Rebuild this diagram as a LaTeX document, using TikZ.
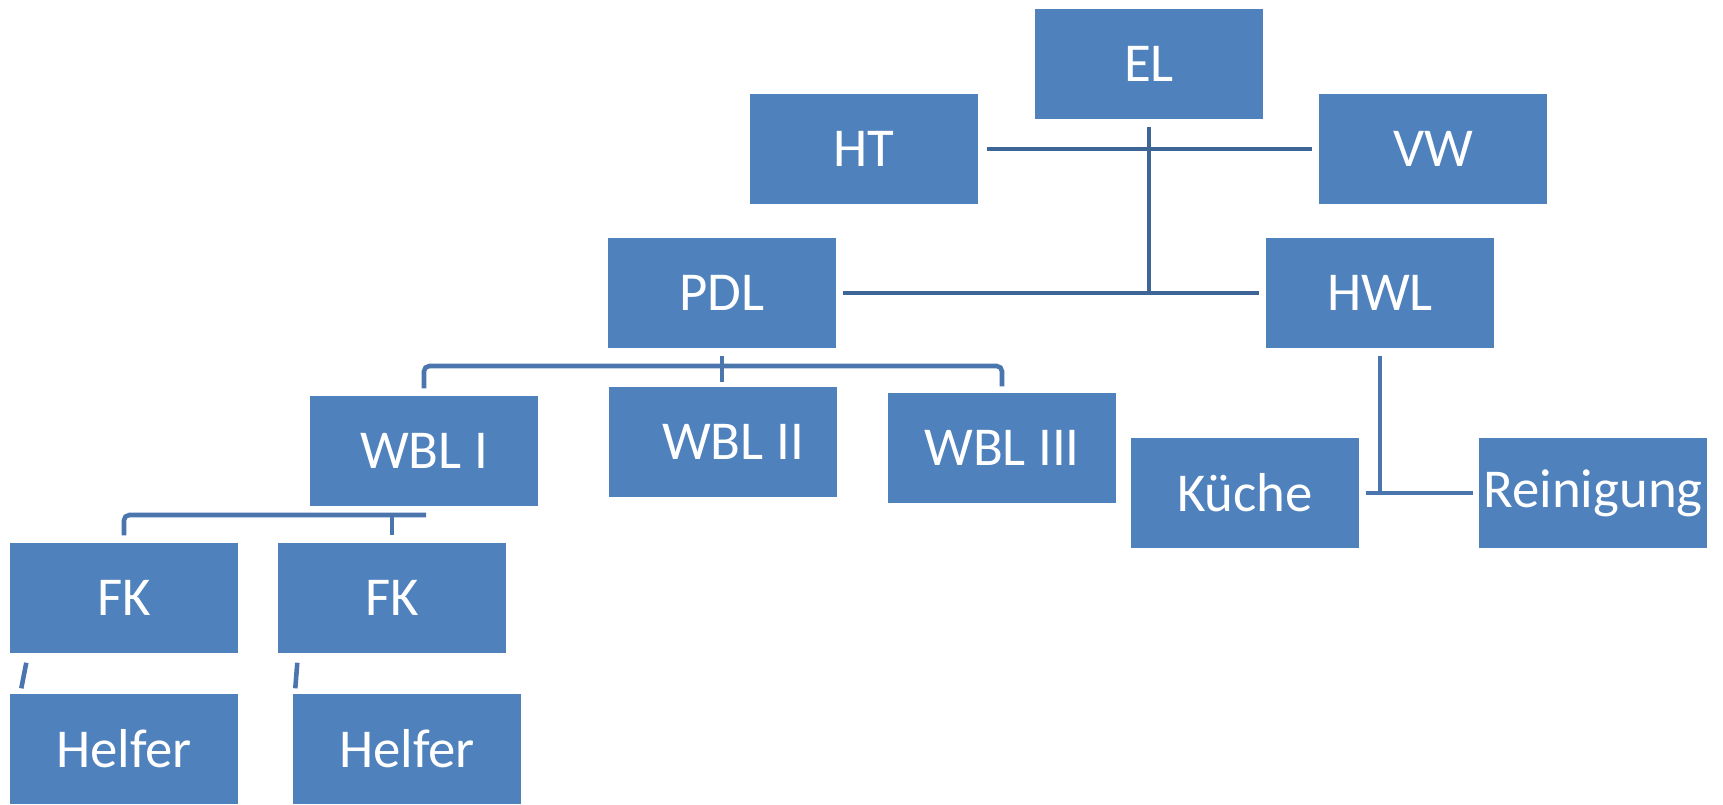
\documentclass[tikz,border=0pt]{standalone}
\usepackage{fontspec}
\setmainfont{Carlito}
\usepackage{tikz}

\definecolor{boxblue}{HTML}{4F81BD}
\definecolor{linedark}{HTML}{3D6596}
\definecolor{linemid}{HTML}{4A75AD}

\begin{document}
\begin{tikzpicture}[x=1cm, y=-1cm,
    box/.style={fill=boxblue, text=white, minimum width=2.28cm, minimum height=1.10cm,
        inner sep=0pt, font=\fontsize{15.6pt}{18pt}\selectfont},
    conn/.style={draw=linemid, line width=1.3pt},
    conntop/.style={draw=linedark, line width=1.4pt}]
    \useasboundingbox (0,0) rectangle (17.23,8.04);
    % Leitung
    \node[box] (EL) at (11.49,0.64) {EL};
    \node[box] (HT) at (8.64,1.49) {HT};
    \node[box] (VW) at (14.33,1.49) {VW};
    % Zweite Ebene
    \node[box] (PDL) at (7.22,2.93) {PDL};
    \node[box] (HWL) at (13.80,2.93) {HWL};
    % Wohnbereiche
    \node[box] (WBLa) at (4.24,4.51) {WBL I};
    \node[box] (WBLb) at (7.23,4.42) {\hspace*{0.2cm}WBL II};
    \node[box] (WBLc) at (10.02,4.48) {WBL III};
    % Hauswirtschaft
    \node[box] (KU) at (12.45,4.93) {K\"uche};
    \node[box] (RE) at (15.93,4.93) {Reinigung};
    % Fachkraefte und Helfer
    \node[box] (FKa) at (1.24,5.98) {FK};
    \node[box] (FKb) at (3.92,5.98) {FK};
    \node[box] (HELa) at (1.24,7.49) {Helfer};
    \node[box] (HELb) at (4.07,7.49) {Helfer};
    % Linien oben
    \draw[conntop] ([xshift=0.08cm]HT.east) -- ([xshift=-0.06cm]VW.west);
    \draw[conntop] ([yshift=-0.07cm]EL.south) -- (EL.south |- PDL.east);
    \draw[conntop] ([xshift=0.06cm]PDL.east) -- ([xshift=-0.06cm]HWL.west);
    % PDL zu WBL
    \coordinate (pbar) at (7.22,3.66);
    \draw[conn] ([yshift=-0.07cm]PDL.south) -- ++(0,0.26);
    \draw[conn, rounded corners=1.5pt] ([yshift=0.07cm]WBLa.north) |- (pbar) -| ([yshift=0.06cm]WBLc.north);
    % WBL I zu FK
    \coordinate (wbar) at (4.26,5.15);
    \draw[conn, rounded corners=1.5pt] ([yshift=0.07cm]FKa.north) |- (wbar);
    \draw[conn] ([yshift=0.07cm]FKb.north) -- (FKb.north |- wbar);
    % FK zu Helfer
    \draw[conn] ([xshift=0.17cm, yshift=-0.09cm]FKa.south west) -- ([xshift=0.12cm, yshift=0.05cm]HELa.north west);
    \draw[conn] ([xshift=0.20cm, yshift=-0.09cm]FKb.south west) -- ([xshift=0.03cm, yshift=0.05cm]HELb.north west);
    % HWL
    \draw[conn] ([yshift=-0.07cm]HWL.south) -- (HWL.south |- KU.east);
    \draw[conn] ([xshift=0.06cm]KU.east) -- ([xshift=-0.05cm]RE.west);
\end{tikzpicture}
\end{document}
